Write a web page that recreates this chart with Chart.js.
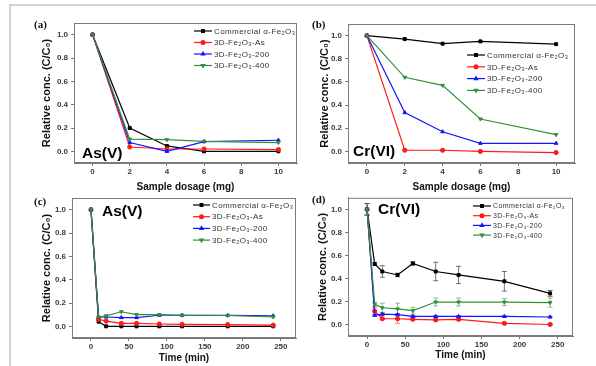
<!DOCTYPE html>
<html>
<head>
<meta charset="utf-8">
<script src="https://cdn.jsdelivr.net/npm/chart.js"></script>
<style>
    body { margin: 0; background: #fff; }
    #pagina { position: relative; width: 596px; height: 366px; overflow: hidden; background: #fff; }
    #moldura { position: absolute; left: 9px; top: 4px; width: 600px; height: 380px; border-top: 2px solid #d0d0d0; border-left: 2px solid #d0d0d0; }
    canvas { position: absolute; }
</style>
</head>
<body>
<div id="pagina">
    <div id="moldura"></div>
    <canvas id="graficoA"></canvas>
    <canvas id="graficoB"></canvas>
    <canvas id="graficoC"></canvas>
    <canvas id="graficoD"></canvas>
</div>
<script>
// Series / legenda
var nomes = ['Commercial α-Fe₂O₃', '3D-Fe₂O₃-As', '3D-Fe₂O₃-200', '3D-Fe₂O₃-400'];
var cores = ['#000000', '#ff1a1a', '#1414ff', '#33903a'];
var marcadores = ['rect', 'circle', 'triangle', 'triangle'];
var rotacoes = [0, 0, 0, 180];

// Eixos
var dosagem = [0, 2, 4, 6, 10];
var tempo = [0, 10, 20, 40, 60, 90, 120, 180, 240];
var ticksDosagem = [0, 2, 4, 6, 8, 10];
var ticksTempo = [0, 50, 100, 150, 200, 250];
var ticksConc = [0, 0.2, 0.4, 0.6, 0.8, 1.0];

// (a) As(V) x dosagem
var asDoseComercial = [1.0, 0.20, 0.046, 0.0, 0.0];
var asDoseAs = [1.0, 0.037, 0.02, 0.02, 0.015];
var asDose200 = [1.0, 0.075, 0.0, 0.083, 0.095];
var asDose400 = [1.0, 0.105, 0.10, 0.085, 0.075];

// (b) Cr(VI) x dosagem
var crDoseComercial = [1.0, 0.97, 0.93, 0.95, 0.926];
var crDoseAs = [1.0, 0.01, 0.01, 0.0, -0.01];
var crDose200 = [1.0, 0.335, 0.17, 0.07, 0.07];
var crDose400 = [1.0, 0.64, 0.57, 0.28, 0.145];

// (c) As(V) x tempo
var asTempoComercial = [1.0, 0.04, 0.0, 0.0, 0.0, 0.0, 0.0, 0.0, 0.0];
var asTempoAs = [1.0, 0.06, 0.045, 0.025, 0.025, 0.02, 0.017, 0.015, 0.01];
var asTempo200 = [1.0, 0.08, 0.08, 0.075, 0.075, 0.095, 0.095, 0.095, 0.09];
var asTempo400 = [1.0, 0.08, 0.09, 0.125, 0.10, 0.10, 0.095, 0.093, 0.08];

// (d) Cr(VI) x tempo, com barras de erro
var crTempoComercial = [1.0, 0.525, 0.46, 0.43, 0.53, 0.46, 0.43, 0.375, 0.27];
var crTempoAs = [1.0, 0.115, 0.05, 0.05, 0.045, 0.04, 0.045, 0.01, 0.0];
var crTempo200 = [1.0, 0.08, 0.09, 0.085, 0.07, 0.07, 0.07, 0.07, 0.065];
var crTempo400 = [1.0, 0.175, 0.145, 0.135, 0.12, 0.195, 0.195, 0.195, 0.19];
var erroComercial = [0.05, 0.012, 0.05, 0.015, 0.015, 0.08, 0.075, 0.085, 0.025];
var erroAs = [0.0, 0.03, 0.008, 0.04, 0.008, 0.008, 0.008, 0.008, 0.005];
var erro200 = [0.05, 0.01, 0.01, 0.01, 0.008, 0.008, 0.008, 0.006, 0.006];
var erro400 = [0.05, 0.02, 0.04, 0.05, 0.03, 0.035, 0.035, 0.03, 0.04];

var fonte = '"Liberation Sans", Arial, sans-serif';

function criarPainel(id, caixa, area, cfg) {
    // caixa = [x, y, largura, altura] do canvas na pagina
    // area = [esquerda, topo, direita, base] da area do grafico na pagina
    var canvas = document.getElementById(id);
    canvas.width = caixa[2];
    canvas.height = caixa[3];
    canvas.style.left = caixa[0] + 'px';
    canvas.style.top = caixa[1] + 'px';

    var larguraY = area[0] - caixa[0];
    var alturaX = caixa[1] + caixa[3] - area[3];
    var ox = caixa[0], oy = caixa[1];

    var datasets = cfg.series.map(function (serie, i) {
        return {
            label: nomes[i],
            data: cfg.x.map(function (x, j) { return { x: x, y: serie[j] }; }),
            borderColor: cores[i],
            backgroundColor: cores[i],
            pointStyle: marcadores[i],
            rotation: rotacoes[i],
            pointRadius: 2.1,
            pointBorderWidth: 1,
            borderWidth: 1.2,
            order: 4 - i,
            erros: cfg.erros ? cfg.erros[i] : null
        };
    });

    var extras = {
        id: 'extras',
        beforeDatasetsDraw: function (chart) {
            // barras de erro
            var ctx = chart.ctx;
            var y = chart.scales.y;
            chart.data.datasets.forEach(function (ds, i) {
                if (!ds.erros) return;
                var meta = chart.getDatasetMeta(i);
                ctx.save();
                ctx.strokeStyle = ds.borderColor;
                ctx.globalAlpha = 0.55;
                ctx.lineWidth = 1;
                meta.data.forEach(function (p, j) {
                    var e = ds.erros[j];
                    if (!e) return;
                    var y1 = y.getPixelForValue(ds.data[j].y + e);
                    var y2 = y.getPixelForValue(ds.data[j].y - e);
                    ctx.beginPath();
                    ctx.moveTo(p.x, y1); ctx.lineTo(p.x, y2);
                    ctx.moveTo(p.x - 2.5, y1); ctx.lineTo(p.x + 2.5, y1);
                    ctx.moveTo(p.x - 2.5, y2); ctx.lineTo(p.x + 2.5, y2);
                    ctx.stroke();
                });
                ctx.restore();
            });
        },
        afterDraw: function (chart) {
            var ctx = chart.ctx;
            var a = chart.chartArea;
            ctx.save();
            // moldura da area
            ctx.strokeStyle = '#7a7a7a';
            ctx.lineWidth = 1;
            ctx.strokeRect(a.left + 0.5, a.top + 0.5, a.right - a.left - 1, a.bottom - a.top - 1);

            // legenda
            var L = cfg.legenda;
            ctx.font = L.tamanho + 'px ' + fonte;
            ctx.letterSpacing = '0.4px';
            ctx.textBaseline = 'middle';
            ctx.textAlign = 'left';
            chart.data.datasets.forEach(function (ds, i) {
                var lx = L.x - ox, ly = L.y - oy + i * L.dy;
                ctx.strokeStyle = ds.borderColor;
                ctx.fillStyle = ds.backgroundColor;
                ctx.lineWidth = 1.2;
                ctx.beginPath();
                ctx.moveTo(lx, ly); ctx.lineTo(lx + L.comp, ly);
                ctx.stroke();
                Chart.helpers.drawPoint(ctx, { pointStyle: ds.pointStyle, rotation: ds.rotation, radius: 1.9, borderWidth: 1 }, lx + L.comp / 2, ly);
                ctx.fillStyle = '#333';
                ctx.fillText(ds.label, lx + L.comp + 2, ly + 0.5);
            });
            ctx.letterSpacing = '0px';

            // letra do painel
            ctx.fillStyle = '#111';
            ctx.font = 'bold 11px "Liberation Serif", serif';
            ctx.fillText(cfg.letra[0], cfg.letra[1] - ox, cfg.letra[2] - oy);

            // ion
            ctx.font = 'bold 15.5px ' + fonte;
            ctx.fillStyle = '#000';
            ctx.fillText(cfg.ion[0], cfg.ion[1] - ox, cfg.ion[2] - oy);
            ctx.restore();
        }
    };

    var eixoFonte = { size: 8, weight: 'bold', family: fonte };

    return new Chart(canvas, {
        type: 'line',
        data: { datasets: datasets },
        plugins: [extras],
        options: {
            responsive: false,
            animation: false,
            devicePixelRatio: 1,
            layout: { padding: { left: 0, top: area[1] - oy, right: ox + caixa[2] - area[2], bottom: 0 } },
            plugins: { legend: { display: false }, tooltip: { enabled: false } },
            scales: {
                x: {
                    type: 'linear',
                    min: cfg.xmin,
                    max: cfg.xmax,
                    afterBuildTicks: function (s) { s.ticks = cfg.ticksX.map(function (v) { return { value: v }; }); },
                    afterFit: function (s) { s.height = alturaX; },
                    grid: { drawOnChartArea: false, drawTicks: true, tickLength: 3, color: '#777' },
                    border: { display: true, color: '#7a7a7a' },
                    ticks: { font: eixoFonte, color: '#3a3a3a', padding: 1, maxRotation: 0, autoSkip: false,
                        callback: function (v) { return v; } },
                    title: { display: true, text: cfg.tituloX, color: '#111',
                        font: { size: 10, weight: 'bold', family: fonte, lineHeight: 1 },
                        padding: { top: 0, bottom: (oy + caixa[3] - cfg.tituloXy) - 5 } }
                },
                y: {
                    min: -0.1,
                    max: 1.1,
                    afterBuildTicks: function (s) { s.ticks = ticksConc.map(function (v) { return { value: v }; }); },
                    afterFit: function (s) { s.width = larguraY; },
                    grid: { drawOnChartArea: false, drawTicks: true, tickLength: 3, color: '#777' },
                    border: { display: true, color: '#7a7a7a' },
                    ticks: { font: eixoFonte, color: '#3a3a3a', padding: 3,
                        callback: function (v) { return v.toFixed(1); } },
                    title: { display: true, text: 'Relative conc. (C/C₀)', color: '#111',
                        font: { size: 11, weight: 'bold', family: fonte, lineHeight: 1 },
                        padding: { top: (cfg.tituloYx - ox) - 5.5, bottom: 0 } }
                }
            }
        }
    });
}

criarPainel('graficoA', [12, 8, 290, 186], [74, 23, 299, 163], {
    x: dosagem, xmin: -1, xmax: 11, ticksX: ticksDosagem,
    series: [asDoseComercial, asDoseAs, asDose200, asDose400],
    tituloX: 'Sample dosage (mg)', tituloXy: 187, tituloYx: 47,
    legenda: { x: 194, y: 31, dy: 11.5, comp: 18, tamanho: 8 },
    letra: ['(a)', 34, 25], ion: ['As(V)', 82, 154]
});

criarPainel('graficoB', [302, 8, 294, 186], [348, 24, 575, 163], {
    x: dosagem, xmin: -1, xmax: 11, ticksX: ticksDosagem,
    series: [crDoseComercial, crDoseAs, crDose200, crDose400],
    tituloX: 'Sample dosage (mg)', tituloXy: 187, tituloYx: 325,
    legenda: { x: 467, y: 55, dy: 11.8, comp: 18, tamanho: 8 },
    letra: ['(b)', 312, 25], ion: ['Cr(VI)', 353, 152]
});

criarPainel('graficoC', [12, 190, 290, 176], [72, 198, 296, 338], {
    x: tempo, xmin: -25, xmax: 270, ticksX: ticksTempo,
    series: [asTempoComercial, asTempoAs, asTempo200, asTempo400],
    tituloX: 'Time (min)', tituloXy: 358, tituloYx: 47,
    legenda: { x: 193, y: 205, dy: 11.7, comp: 17, tamanho: 8 },
    letra: ['(c)', 34, 202], ion: ['As(V)', 102, 212]
});

criarPainel('graficoD', [302, 190, 294, 176], [348, 197, 573, 336], {
    x: tempo, xmin: -25, xmax: 270, ticksX: ticksTempo,
    series: [crTempoComercial, crTempoAs, crTempo200, crTempo400],
    erros: [erroComercial, erroAs, erro200, erro400],
    tituloX: 'Time (min)', tituloXy: 355, tituloYx: 323,
    legenda: { x: 473, y: 206, dy: 9.7, comp: 18, tamanho: 7 },
    letra: ['(d)', 312, 200], ion: ['Cr(VI)', 378, 210]
});
</script>
</body>
</html>
